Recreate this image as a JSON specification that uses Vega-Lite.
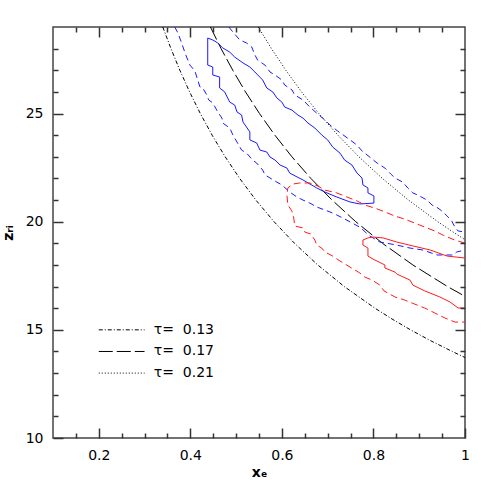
{
  "$schema": "https://vega.github.io/schema/vega-lite/v6.json",
  "width": 412,
  "height": 411,
  "autosize": {"type": "none"},
  "padding": {"left": 53, "top": 27, "right": 26, "bottom": 53},
  "background": "white",
  "config": {
    "view": {"stroke": "#444", "strokeWidth": 1.5},
    "axis": {
      "zindex": 2,
      "domain": false,
      "grid": false,
      "labelFont": "DejaVu Sans",
      "labelFontSize": 14,
      "labelColor": "#000",
      "titleFont": "DejaVu Sans",
      "titleFontSize": 14,
      "titleFontWeight": "bold",
      "titleColor": "#000"
    }
  },
  "datasets": {
    "lines": [
      {"g": "t13", "st": "dd", "o": 1, "x": 0.3398, "y": 29},
      {"g": "t13", "st": "dd", "o": 2, "x": 0.3577, "y": 28},
      {"g": "t13", "st": "dd", "o": 3, "x": 0.3771, "y": 27},
      {"g": "t13", "st": "dd", "o": 4, "x": 0.3984, "y": 26},
      {"g": "t13", "st": "dd", "o": 5, "x": 0.4218, "y": 25},
      {"g": "t13", "st": "dd", "o": 6, "x": 0.4476, "y": 24},
      {"g": "t13", "st": "dd", "o": 7, "x": 0.4761, "y": 23},
      {"g": "t13", "st": "dd", "o": 8, "x": 0.5078, "y": 22},
      {"g": "t13", "st": "dd", "o": 9, "x": 0.5431, "y": 21},
      {"g": "t13", "st": "dd", "o": 10, "x": 0.5828, "y": 20},
      {"g": "t13", "st": "dd", "o": 11, "x": 0.6276, "y": 19},
      {"g": "t13", "st": "dd", "o": 12, "x": 0.6783, "y": 18},
      {"g": "t13", "st": "dd", "o": 13, "x": 0.7364, "y": 17},
      {"g": "t13", "st": "dd", "o": 14, "x": 0.8033, "y": 16},
      {"g": "t13", "st": "dd", "o": 15, "x": 0.8407, "y": 15.5},
      {"g": "t13", "st": "dd", "o": 16, "x": 0.881, "y": 15},
      {"g": "t13", "st": "dd", "o": 17, "x": 0.9247, "y": 14.5},
      {"g": "t13", "st": "dd", "o": 18, "x": 0.9722, "y": 14},
      {"g": "t13", "st": "dd", "o": 19, "x": 1.0, "y": 13.72},

      {"g": "t17", "st": "lg", "o": 1, "x": 0.4439, "y": 29},
      {"g": "t17", "st": "lg", "o": 2, "x": 0.4672, "y": 28},
      {"g": "t17", "st": "lg", "o": 3, "x": 0.4927, "y": 27},
      {"g": "t17", "st": "lg", "o": 4, "x": 0.5205, "y": 26},
      {"g": "t17", "st": "lg", "o": 5, "x": 0.551, "y": 25},
      {"g": "t17", "st": "lg", "o": 6, "x": 0.5847, "y": 24},
      {"g": "t17", "st": "lg", "o": 7, "x": 0.6219, "y": 23},
      {"g": "t17", "st": "lg", "o": 8, "x": 0.6633, "y": 22},
      {"g": "t17", "st": "lg", "o": 9, "x": 0.7095, "y": 21},
      {"g": "t17", "st": "lg", "o": 10, "x": 0.7613, "y": 20},
      {"g": "t17", "st": "lg", "o": 11, "x": 0.8198, "y": 19},
      {"g": "t17", "st": "lg", "o": 12, "x": 0.8861, "y": 18},
      {"g": "t17", "st": "lg", "o": 13, "x": 0.9619, "y": 17},
      {"g": "t17", "st": "lg", "o": 14, "x": 1.0, "y": 16.55},

      {"g": "t21", "st": "dt", "o": 1, "x": 0.5484, "y": 29},
      {"g": "t21", "st": "dt", "o": 2, "x": 0.5772, "y": 28},
      {"g": "t21", "st": "dt", "o": 3, "x": 0.6086, "y": 27},
      {"g": "t21", "st": "dt", "o": 4, "x": 0.6429, "y": 26},
      {"g": "t21", "st": "dt", "o": 5, "x": 0.6807, "y": 25},
      {"g": "t21", "st": "dt", "o": 6, "x": 0.7223, "y": 24},
      {"g": "t21", "st": "dt", "o": 7, "x": 0.7682, "y": 23},
      {"g": "t21", "st": "dt", "o": 8, "x": 0.8194, "y": 22},
      {"g": "t21", "st": "dt", "o": 9, "x": 0.8764, "y": 21},
      {"g": "t21", "st": "dt", "o": 10, "x": 0.9405, "y": 20},
      {"g": "t21", "st": "dt", "o": 11, "x": 0.9754, "y": 19.5},
      {"g": "t21", "st": "dt", "o": 12, "x": 1.0, "y": 19.17},

      {"g": "L1", "st": "dd", "o": 1, "x": 0.2, "y": 15},
      {"g": "L1", "st": "dd", "o": 2, "x": 0.3, "y": 15},
      {"g": "L2", "st": "lg", "o": 1, "x": 0.2, "y": 14},
      {"g": "L2", "st": "lg", "o": 2, "x": 0.3, "y": 14},
      {"g": "L3", "st": "dt", "o": 1, "x": 0.2, "y": 13},
      {"g": "L3", "st": "dt", "o": 2, "x": 0.3, "y": 13},

      {"g": "bs", "st": "bs", "o": 1, "x": 0.438, "y": 28.49},
      {"g": "bs", "st": "bs", "o": 2, "x": 0.449, "y": 28.40},
      {"g": "bs", "st": "bs", "o": 3, "x": 0.460, "y": 28.26},
      {"g": "bs", "st": "bs", "o": 4, "x": 0.471, "y": 28.03},
      {"g": "bs", "st": "bs", "o": 5, "x": 0.486, "y": 27.84},
      {"g": "bs", "st": "bs", "o": 6, "x": 0.497, "y": 27.61},
      {"g": "bs", "st": "bs", "o": 7, "x": 0.515, "y": 27.34},
      {"g": "bs", "st": "bs", "o": 8, "x": 0.530, "y": 27.15},
      {"g": "bs", "st": "bs", "o": 9, "x": 0.541, "y": 26.92},
      {"g": "bs", "st": "bs", "o": 10, "x": 0.558, "y": 26.55},
      {"g": "bs", "st": "bs", "o": 11, "x": 0.567, "y": 26.18},
      {"g": "bs", "st": "bs", "o": 12, "x": 0.580, "y": 26.00},
      {"g": "bs", "st": "bs", "o": 13, "x": 0.589, "y": 25.72},
      {"g": "bs", "st": "bs", "o": 14, "x": 0.600, "y": 25.53},
      {"g": "bs", "st": "bs", "o": 15, "x": 0.606, "y": 25.30},
      {"g": "bs", "st": "bs", "o": 16, "x": 0.622, "y": 25.16},
      {"g": "bs", "st": "bs", "o": 17, "x": 0.635, "y": 24.93},
      {"g": "bs", "st": "bs", "o": 18, "x": 0.646, "y": 24.79},
      {"g": "bs", "st": "bs", "o": 19, "x": 0.657, "y": 24.56},
      {"g": "bs", "st": "bs", "o": 20, "x": 0.672, "y": 24.33},
      {"g": "bs", "st": "bs", "o": 21, "x": 0.687, "y": 24.01},
      {"g": "bs", "st": "bs", "o": 22, "x": 0.700, "y": 23.78},
      {"g": "bs", "st": "bs", "o": 23, "x": 0.711, "y": 23.45},
      {"g": "bs", "st": "bs", "o": 24, "x": 0.727, "y": 23.17},
      {"g": "bs", "st": "bs", "o": 25, "x": 0.737, "y": 22.85},
      {"g": "bs", "st": "bs", "o": 26, "x": 0.753, "y": 22.62},
      {"g": "bs", "st": "bs", "o": 27, "x": 0.764, "y": 22.25},
      {"g": "bs", "st": "bs", "o": 28, "x": 0.775, "y": 22.02},
      {"g": "bs", "st": "bs", "o": 29, "x": 0.777, "y": 21.70},
      {"g": "bs", "st": "bs", "o": 30, "x": 0.788, "y": 21.56},
      {"g": "bs", "st": "bs", "o": 31, "x": 0.788, "y": 21.33},
      {"g": "bs", "st": "bs", "o": 32, "x": 0.801, "y": 21.19},
      {"g": "bs", "st": "bs", "o": 33, "x": 0.801, "y": 20.86},
      {"g": "bs", "st": "bs", "o": 34, "x": 0.770, "y": 20.82},
      {"g": "bs", "st": "bs", "o": 35, "x": 0.749, "y": 20.91},
      {"g": "bs", "st": "bs", "o": 36, "x": 0.720, "y": 21.14},
      {"g": "bs", "st": "bs", "o": 37, "x": 0.694, "y": 21.37},
      {"g": "bs", "st": "bs", "o": 38, "x": 0.676, "y": 21.56},
      {"g": "bs", "st": "bs", "o": 39, "x": 0.646, "y": 21.93},
      {"g": "bs", "st": "bs", "o": 40, "x": 0.633, "y": 22.07},
      {"g": "bs", "st": "bs", "o": 41, "x": 0.617, "y": 22.25},
      {"g": "bs", "st": "bs", "o": 42, "x": 0.611, "y": 22.48},
      {"g": "bs", "st": "bs", "o": 43, "x": 0.596, "y": 22.62},
      {"g": "bs", "st": "bs", "o": 44, "x": 0.585, "y": 22.85},
      {"g": "bs", "st": "bs", "o": 45, "x": 0.574, "y": 22.99},
      {"g": "bs", "st": "bs", "o": 46, "x": 0.567, "y": 23.22},
      {"g": "bs", "st": "bs", "o": 47, "x": 0.552, "y": 23.31},
      {"g": "bs", "st": "bs", "o": 48, "x": 0.545, "y": 23.64},
      {"g": "bs", "st": "bs", "o": 49, "x": 0.530, "y": 23.78},
      {"g": "bs", "st": "bs", "o": 50, "x": 0.530, "y": 24.15},
      {"g": "bs", "st": "bs", "o": 51, "x": 0.515, "y": 24.61},
      {"g": "bs", "st": "bs", "o": 52, "x": 0.512, "y": 24.93},
      {"g": "bs", "st": "bs", "o": 53, "x": 0.502, "y": 25.07},
      {"g": "bs", "st": "bs", "o": 54, "x": 0.497, "y": 25.39},
      {"g": "bs", "st": "bs", "o": 55, "x": 0.486, "y": 25.53},
      {"g": "bs", "st": "bs", "o": 56, "x": 0.475, "y": 26.00},
      {"g": "bs", "st": "bs", "o": 57, "x": 0.464, "y": 26.18},
      {"g": "bs", "st": "bs", "o": 58, "x": 0.464, "y": 26.69},
      {"g": "bs", "st": "bs", "o": 59, "x": 0.449, "y": 26.78},
      {"g": "bs", "st": "bs", "o": 60, "x": 0.449, "y": 27.15},
      {"g": "bs", "st": "bs", "o": 61, "x": 0.438, "y": 27.24},
      {"g": "bs", "st": "bs", "o": 62, "x": 0.438, "y": 28.49},

      {"g": "bdu", "st": "bd", "o": 1, "x": 0.484, "y": 29.0},
      {"g": "bdu", "st": "bd", "o": 2, "x": 0.493, "y": 28.77},
      {"g": "bdu", "st": "bd", "o": 3, "x": 0.508, "y": 28.40},
      {"g": "bdu", "st": "bd", "o": 4, "x": 0.523, "y": 28.26},
      {"g": "bdu", "st": "bd", "o": 5, "x": 0.534, "y": 28.08},
      {"g": "bdu", "st": "bd", "o": 6, "x": 0.541, "y": 27.71},
      {"g": "bdu", "st": "bd", "o": 7, "x": 0.547, "y": 27.47},
      {"g": "bdu", "st": "bd", "o": 8, "x": 0.563, "y": 27.24},
      {"g": "bdu", "st": "bd", "o": 9, "x": 0.574, "y": 26.92},
      {"g": "bdu", "st": "bd", "o": 10, "x": 0.585, "y": 26.78},
      {"g": "bdu", "st": "bd", "o": 11, "x": 0.600, "y": 26.55},
      {"g": "bdu", "st": "bd", "o": 12, "x": 0.606, "y": 26.32},
      {"g": "bdu", "st": "bd", "o": 13, "x": 0.622, "y": 26.09},
      {"g": "bdu", "st": "bd", "o": 14, "x": 0.628, "y": 25.86},
      {"g": "bdu", "st": "bd", "o": 15, "x": 0.646, "y": 25.63},
      {"g": "bdu", "st": "bd", "o": 16, "x": 0.661, "y": 25.30},
      {"g": "bdu", "st": "bd", "o": 17, "x": 0.676, "y": 25.02},
      {"g": "bdu", "st": "bd", "o": 18, "x": 0.694, "y": 24.70},
      {"g": "bdu", "st": "bd", "o": 19, "x": 0.705, "y": 24.47},
      {"g": "bdu", "st": "bd", "o": 20, "x": 0.722, "y": 24.19},
      {"g": "bdu", "st": "bd", "o": 21, "x": 0.749, "y": 23.78},
      {"g": "bdu", "st": "bd", "o": 22, "x": 0.764, "y": 23.54},
      {"g": "bdu", "st": "bd", "o": 23, "x": 0.775, "y": 23.27},
      {"g": "bdu", "st": "bd", "o": 24, "x": 0.797, "y": 22.90},
      {"g": "bdu", "st": "bd", "o": 25, "x": 0.808, "y": 22.71},
      {"g": "bdu", "st": "bd", "o": 26, "x": 0.825, "y": 22.48},
      {"g": "bdu", "st": "bd", "o": 27, "x": 0.838, "y": 22.20},
      {"g": "bdu", "st": "bd", "o": 28, "x": 0.847, "y": 22.02},
      {"g": "bdu", "st": "bd", "o": 29, "x": 0.864, "y": 21.83},
      {"g": "bdu", "st": "bd", "o": 30, "x": 0.875, "y": 21.56},
      {"g": "bdu", "st": "bd", "o": 31, "x": 0.886, "y": 21.33},
      {"g": "bdu", "st": "bd", "o": 32, "x": 0.897, "y": 21.23},
      {"g": "bdu", "st": "bd", "o": 33, "x": 0.917, "y": 21.00},
      {"g": "bdu", "st": "bd", "o": 34, "x": 0.928, "y": 20.77},
      {"g": "bdu", "st": "bd", "o": 35, "x": 0.941, "y": 20.63},
      {"g": "bdu", "st": "bd", "o": 36, "x": 0.952, "y": 20.45},
      {"g": "bdu", "st": "bd", "o": 37, "x": 0.961, "y": 20.26},
      {"g": "bdu", "st": "bd", "o": 38, "x": 0.971, "y": 20.03},
      {"g": "bdu", "st": "bd", "o": 39, "x": 0.978, "y": 19.75},
      {"g": "bdu", "st": "bd", "o": 40, "x": 0.985, "y": 19.57},
      {"g": "bdu", "st": "bd", "o": 41, "x": 1.0, "y": 19.52},

      {"g": "bdl", "st": "bd", "o": 1, "x": 0.366, "y": 29.0},
      {"g": "bdl", "st": "bd", "o": 2, "x": 0.373, "y": 28.72},
      {"g": "bdl", "st": "bd", "o": 3, "x": 0.377, "y": 28.49},
      {"g": "bdl", "st": "bd", "o": 4, "x": 0.381, "y": 28.26},
      {"g": "bdl", "st": "bd", "o": 5, "x": 0.390, "y": 27.71},
      {"g": "bdl", "st": "bd", "o": 6, "x": 0.399, "y": 27.24},
      {"g": "bdl", "st": "bd", "o": 7, "x": 0.410, "y": 26.97},
      {"g": "bdl", "st": "bd", "o": 8, "x": 0.414, "y": 26.69},
      {"g": "bdl", "st": "bd", "o": 9, "x": 0.421, "y": 26.23},
      {"g": "bdl", "st": "bd", "o": 10, "x": 0.427, "y": 26.18},
      {"g": "bdl", "st": "bd", "o": 11, "x": 0.436, "y": 25.86},
      {"g": "bdl", "st": "bd", "o": 12, "x": 0.440, "y": 25.63},
      {"g": "bdl", "st": "bd", "o": 13, "x": 0.449, "y": 25.49},
      {"g": "bdl", "st": "bd", "o": 14, "x": 0.460, "y": 25.07},
      {"g": "bdl", "st": "bd", "o": 15, "x": 0.469, "y": 24.79},
      {"g": "bdl", "st": "bd", "o": 16, "x": 0.471, "y": 24.56},
      {"g": "bdl", "st": "bd", "o": 17, "x": 0.486, "y": 24.33},
      {"g": "bdl", "st": "bd", "o": 18, "x": 0.493, "y": 24.01},
      {"g": "bdl", "st": "bd", "o": 19, "x": 0.502, "y": 23.68},
      {"g": "bdl", "st": "bd", "o": 20, "x": 0.512, "y": 23.31},
      {"g": "bdl", "st": "bd", "o": 21, "x": 0.523, "y": 23.17},
      {"g": "bdl", "st": "bd", "o": 22, "x": 0.536, "y": 22.85},
      {"g": "bdl", "st": "bd", "o": 23, "x": 0.545, "y": 22.71},
      {"g": "bdl", "st": "bd", "o": 24, "x": 0.558, "y": 22.39},
      {"g": "bdl", "st": "bd", "o": 25, "x": 0.563, "y": 22.16},
      {"g": "bdl", "st": "bd", "o": 26, "x": 0.574, "y": 22.02},
      {"g": "bdl", "st": "bd", "o": 27, "x": 0.589, "y": 21.83},
      {"g": "bdl", "st": "bd", "o": 28, "x": 0.600, "y": 21.70},
      {"g": "bdl", "st": "bd", "o": 29, "x": 0.617, "y": 21.37},
      {"g": "bdl", "st": "bd", "o": 30, "x": 0.633, "y": 21.14},
      {"g": "bdl", "st": "bd", "o": 31, "x": 0.646, "y": 21.00},
      {"g": "bdl", "st": "bd", "o": 32, "x": 0.661, "y": 20.86},
      {"g": "bdl", "st": "bd", "o": 33, "x": 0.676, "y": 20.68},
      {"g": "bdl", "st": "bd", "o": 34, "x": 0.705, "y": 20.45},
      {"g": "bdl", "st": "bd", "o": 35, "x": 0.720, "y": 20.31},
      {"g": "bdl", "st": "bd", "o": 36, "x": 0.733, "y": 20.17},
      {"g": "bdl", "st": "bd", "o": 37, "x": 0.749, "y": 19.99},
      {"g": "bdl", "st": "bd", "o": 38, "x": 0.770, "y": 19.75},
      {"g": "bdl", "st": "bd", "o": 39, "x": 0.792, "y": 19.34},
      {"g": "bdl", "st": "bd", "o": 40, "x": 0.814, "y": 19.06},
      {"g": "bdl", "st": "bd", "o": 41, "x": 0.851, "y": 18.92},
      {"g": "bdl", "st": "bd", "o": 42, "x": 0.880, "y": 18.78},
      {"g": "bdl", "st": "bd", "o": 43, "x": 0.908, "y": 18.69},
      {"g": "bdl", "st": "bd", "o": 44, "x": 0.939, "y": 18.46},
      {"g": "bdl", "st": "bd", "o": 45, "x": 0.974, "y": 18.46},
      {"g": "bdl", "st": "bd", "o": 46, "x": 0.982, "y": 18.60},
      {"g": "bdl", "st": "bd", "o": 47, "x": 1.0, "y": 18.69},

      {"g": "rs", "st": "rs", "o": 1, "x": 1.0, "y": 18.32},
      {"g": "rs", "st": "rs", "o": 2, "x": 0.961, "y": 18.41},
      {"g": "rs", "st": "rs", "o": 3, "x": 0.924, "y": 18.69},
      {"g": "rs", "st": "rs", "o": 4, "x": 0.886, "y": 18.88},
      {"g": "rs", "st": "rs", "o": 5, "x": 0.851, "y": 19.06},
      {"g": "rs", "st": "rs", "o": 6, "x": 0.821, "y": 19.25},
      {"g": "rs", "st": "rs", "o": 7, "x": 0.799, "y": 19.29},
      {"g": "rs", "st": "rs", "o": 8, "x": 0.788, "y": 19.25},
      {"g": "rs", "st": "rs", "o": 9, "x": 0.777, "y": 19.15},
      {"g": "rs", "st": "rs", "o": 10, "x": 0.777, "y": 18.92},
      {"g": "rs", "st": "rs", "o": 11, "x": 0.788, "y": 18.78},
      {"g": "rs", "st": "rs", "o": 12, "x": 0.788, "y": 18.41},
      {"g": "rs", "st": "rs", "o": 13, "x": 0.799, "y": 18.27},
      {"g": "rs", "st": "rs", "o": 14, "x": 0.825, "y": 18.00},
      {"g": "rs", "st": "rs", "o": 15, "x": 0.825, "y": 17.86},
      {"g": "rs", "st": "rs", "o": 16, "x": 0.847, "y": 17.67},
      {"g": "rs", "st": "rs", "o": 17, "x": 0.851, "y": 17.58},
      {"g": "rs", "st": "rs", "o": 18, "x": 0.880, "y": 17.30},
      {"g": "rs", "st": "rs", "o": 19, "x": 0.886, "y": 17.07},
      {"g": "rs", "st": "rs", "o": 20, "x": 0.912, "y": 16.80},
      {"g": "rs", "st": "rs", "o": 21, "x": 0.945, "y": 16.52},
      {"g": "rs", "st": "rs", "o": 22, "x": 0.967, "y": 16.29},
      {"g": "rs", "st": "rs", "o": 23, "x": 0.985, "y": 16.01},
      {"g": "rs", "st": "rs", "o": 24, "x": 1.0, "y": 16.01},

      {"g": "rd", "st": "rd", "o": 1, "x": 1.0, "y": 19.01},
      {"g": "rd", "st": "rd", "o": 2, "x": 0.978, "y": 19.15},
      {"g": "rd", "st": "rd", "o": 3, "x": 0.956, "y": 19.34},
      {"g": "rd", "st": "rd", "o": 4, "x": 0.934, "y": 19.57},
      {"g": "rd", "st": "rd", "o": 5, "x": 0.912, "y": 19.75},
      {"g": "rd", "st": "rd", "o": 6, "x": 0.890, "y": 19.94},
      {"g": "rd", "st": "rd", "o": 7, "x": 0.868, "y": 20.12},
      {"g": "rd", "st": "rd", "o": 8, "x": 0.847, "y": 20.26},
      {"g": "rd", "st": "rd", "o": 9, "x": 0.825, "y": 20.45},
      {"g": "rd", "st": "rd", "o": 10, "x": 0.803, "y": 20.63},
      {"g": "rd", "st": "rd", "o": 11, "x": 0.781, "y": 20.77},
      {"g": "rd", "st": "rd", "o": 12, "x": 0.764, "y": 20.96},
      {"g": "rd", "st": "rd", "o": 13, "x": 0.742, "y": 21.14},
      {"g": "rd", "st": "rd", "o": 14, "x": 0.720, "y": 21.33},
      {"g": "rd", "st": "rd", "o": 15, "x": 0.694, "y": 21.46},
      {"g": "rd", "st": "rd", "o": 16, "x": 0.678, "y": 21.65},
      {"g": "rd", "st": "rd", "o": 17, "x": 0.661, "y": 21.79},
      {"g": "rd", "st": "rd", "o": 18, "x": 0.639, "y": 21.79},
      {"g": "rd", "st": "rd", "o": 19, "x": 0.624, "y": 21.74},
      {"g": "rd", "st": "rd", "o": 20, "x": 0.613, "y": 21.56},
      {"g": "rd", "st": "rd", "o": 21, "x": 0.611, "y": 21.23},
      {"g": "rd", "st": "rd", "o": 22, "x": 0.613, "y": 20.77},
      {"g": "rd", "st": "rd", "o": 23, "x": 0.622, "y": 20.49},
      {"g": "rd", "st": "rd", "o": 24, "x": 0.626, "y": 20.17},
      {"g": "rd", "st": "rd", "o": 25, "x": 0.628, "y": 19.80},
      {"g": "rd", "st": "rd", "o": 26, "x": 0.646, "y": 19.71},
      {"g": "rd", "st": "rd", "o": 27, "x": 0.650, "y": 19.52},
      {"g": "rd", "st": "rd", "o": 28, "x": 0.663, "y": 19.43},
      {"g": "rd", "st": "rd", "o": 29, "x": 0.672, "y": 19.15},
      {"g": "rd", "st": "rd", "o": 30, "x": 0.676, "y": 18.92},
      {"g": "rd", "st": "rd", "o": 31, "x": 0.687, "y": 18.78},
      {"g": "rd", "st": "rd", "o": 32, "x": 0.694, "y": 18.60},
      {"g": "rd", "st": "rd", "o": 33, "x": 0.711, "y": 18.41},
      {"g": "rd", "st": "rd", "o": 34, "x": 0.727, "y": 18.18},
      {"g": "rd", "st": "rd", "o": 35, "x": 0.749, "y": 17.90},
      {"g": "rd", "st": "rd", "o": 36, "x": 0.770, "y": 17.63},
      {"g": "rd", "st": "rd", "o": 37, "x": 0.781, "y": 17.44},
      {"g": "rd", "st": "rd", "o": 38, "x": 0.797, "y": 17.30},
      {"g": "rd", "st": "rd", "o": 39, "x": 0.814, "y": 17.07},
      {"g": "rd", "st": "rd", "o": 40, "x": 0.823, "y": 16.80},
      {"g": "rd", "st": "rd", "o": 41, "x": 0.847, "y": 16.52},
      {"g": "rd", "st": "rd", "o": 42, "x": 0.868, "y": 16.38},
      {"g": "rd", "st": "rd", "o": 43, "x": 0.890, "y": 16.19},
      {"g": "rd", "st": "rd", "o": 44, "x": 0.912, "y": 16.01},
      {"g": "rd", "st": "rd", "o": 45, "x": 0.934, "y": 15.78},
      {"g": "rd", "st": "rd", "o": 46, "x": 0.956, "y": 15.55},
      {"g": "rd", "st": "rd", "o": 47, "x": 0.978, "y": 15.36},
      {"g": "rd", "st": "rd", "o": 48, "x": 1.0, "y": 15.36}
    ],
    "legend": [
      {"x": 0.32, "y": 15, "label": "τ= \u00a00.13"},
      {"x": 0.32, "y": 14, "label": "τ= \u00a00.17"},
      {"x": 0.32, "y": 13, "label": "τ= \u00a00.21"}
    ]
  },
  "layer": [
    {
      "data": {"name": "legend"},
      "mark": {"type": "text", "align": "left", "baseline": "middle", "fontSize": 14, "font": "DejaVu Sans", "color": "#000"},
      "encoding": {
        "x": {
          "field": "x", "type": "quantitative",
          "scale": {"domain": [0.1, 1], "nice": false, "zero": false},
          "axis": {
            "orient": "bottom",
            "title": "xₑ",
            "titlePadding": 3,
            "tickSize": -10,
            "tickColor": "#333",
            "tickWidth": 1.5,
            "zindex": 2,
            "values": [0.2, 0.4, 0.6, 0.8, 1],
            "labelExpr": "datum.value > 0.99 ? '1' : format(datum.value, '.1f')",
            "labelPadding": 20,
            "labelFlush": false,
            "labelOverlap": false
          }
        },
        "y": {
          "field": "y", "type": "quantitative",
          "scale": {"domain": [10, 29], "nice": false, "zero": false},
          "axis": {
            "orient": "left",
            "title": "zᵣᵢ",
            "titlePadding": 10,
            "tickSize": -10,
            "tickColor": "#333",
            "tickWidth": 1.5,
            "zindex": 2,
            "values": [10, 15, 20, 25],
            "labelPadding": 20,
            "labelFlush": false,
            "labelOverlap": false
          }
        },
        "text": {"field": "label", "type": "nominal"}
      }
    },
    {
      "data": {"name": "legend"},
      "mark": {"type": "text", "opacity": 0},
      "encoding": {
        "x": {
          "field": "x", "type": "quantitative",
          "scale": {"domain": [0.1, 1], "nice": false, "zero": false},
          "axis": {"orient": "bottom", "title": null, "labels": false, "zindex": 2, "tickSize": -5, "tickColor": "#333", "tickWidth": 1.5, "values": [0.15, 0.25, 0.3, 0.35, 0.45, 0.5, 0.55, 0.65, 0.7, 0.75, 0.85, 0.9, 0.95]}
        },
        "y": {
          "field": "y", "type": "quantitative",
          "scale": {"domain": [10, 29], "nice": false, "zero": false},
          "axis": {"orient": "left", "title": null, "labels": false, "zindex": 2, "tickSize": -5, "tickColor": "#333", "tickWidth": 1.5, "values": [11, 12, 13, 14, 16, 17, 18, 19, 21, 22, 23, 24, 26, 27, 28]}
        },
        "text": {"field": "label", "type": "nominal"}
      }
    },
    {
      "data": {"name": "legend"},
      "mark": {"type": "text", "opacity": 0},
      "encoding": {
        "x": {
          "field": "x", "type": "quantitative",
          "scale": {"domain": [0.1, 1], "nice": false, "zero": false},
          "axis": {"orient": "top", "title": null, "labels": false, "zindex": 2, "tickSize": -10, "tickColor": "#333", "tickWidth": 1.5, "values": [0.2, 0.4, 0.6, 0.8]}
        },
        "y": {
          "field": "y", "type": "quantitative",
          "scale": {"domain": [10, 29], "nice": false, "zero": false},
          "axis": {"orient": "right", "title": null, "labels": false, "zindex": 2, "tickSize": -10, "tickColor": "#333", "tickWidth": 1.5, "values": [15, 20, 25]}
        },
        "text": {"field": "label", "type": "nominal"}
      }
    },
    {
      "data": {"name": "legend"},
      "mark": {"type": "text", "opacity": 0},
      "encoding": {
        "x": {
          "field": "x", "type": "quantitative",
          "scale": {"domain": [0.1, 1], "nice": false, "zero": false},
          "axis": {"orient": "top", "title": null, "labels": false, "zindex": 2, "tickSize": -5, "tickColor": "#333", "tickWidth": 1.5, "values": [0.15, 0.25, 0.3, 0.35, 0.45, 0.5, 0.55, 0.65, 0.7, 0.75, 0.85, 0.9, 0.95]}
        },
        "y": {
          "field": "y", "type": "quantitative",
          "scale": {"domain": [10, 29], "nice": false, "zero": false},
          "axis": {"orient": "right", "title": null, "labels": false, "zindex": 2, "tickSize": -5, "tickColor": "#333", "tickWidth": 1.5, "values": [11, 12, 13, 14, 16, 17, 18, 19, 21, 22, 23, 24, 26, 27, 28]}
        },
        "text": {"field": "label", "type": "nominal"}
      }
    },
    {
      "data": {"name": "lines"},
      "transform": [{"filter": "datum.st == 'dd'"}],
      "mark": {"type": "line", "strokeWidth": 1, "color": "#000000", "strokeDash": [4, 2, 1, 2]},
      "encoding": {
        "x": {"field": "x", "type": "quantitative", "axis": null},
        "y": {"field": "y", "type": "quantitative", "axis": null},
        "detail": {"field": "g", "type": "nominal"},
        "order": {"field": "o", "type": "quantitative"}
      }
    },
    {
      "data": {"name": "lines"},
      "transform": [{"filter": "datum.st == 'lg'"}],
      "mark": {"type": "line", "strokeWidth": 1, "color": "#000000", "strokeDash": [14, 4]},
      "encoding": {
        "x": {"field": "x", "type": "quantitative", "axis": null},
        "y": {"field": "y", "type": "quantitative", "axis": null},
        "detail": {"field": "g", "type": "nominal"},
        "order": {"field": "o", "type": "quantitative"}
      }
    },
    {
      "data": {"name": "lines"},
      "transform": [{"filter": "datum.st == 'dt'"}],
      "mark": {"type": "line", "strokeWidth": 1, "color": "#000000", "strokeDash": [1, 2]},
      "encoding": {
        "x": {"field": "x", "type": "quantitative", "axis": null},
        "y": {"field": "y", "type": "quantitative", "axis": null},
        "detail": {"field": "g", "type": "nominal"},
        "order": {"field": "o", "type": "quantitative"}
      }
    },
    {
      "data": {"name": "lines"},
      "transform": [{"filter": "datum.st == 'bs'"}],
      "mark": {"type": "line", "strokeWidth": 1, "color": "#1a1aff"},
      "encoding": {
        "x": {"field": "x", "type": "quantitative", "axis": null},
        "y": {"field": "y", "type": "quantitative", "axis": null},
        "detail": {"field": "g", "type": "nominal"},
        "order": {"field": "o", "type": "quantitative"}
      }
    },
    {
      "data": {"name": "lines"},
      "transform": [{"filter": "datum.st == 'bd'"}],
      "mark": {"type": "line", "strokeWidth": 1, "color": "#1a1aff", "strokeDash": [6, 4]},
      "encoding": {
        "x": {"field": "x", "type": "quantitative", "axis": null},
        "y": {"field": "y", "type": "quantitative", "axis": null},
        "detail": {"field": "g", "type": "nominal"},
        "order": {"field": "o", "type": "quantitative"}
      }
    },
    {
      "data": {"name": "lines"},
      "transform": [{"filter": "datum.st == 'rs'"}],
      "mark": {"type": "line", "strokeWidth": 1, "color": "#ff1a1a"},
      "encoding": {
        "x": {"field": "x", "type": "quantitative", "axis": null},
        "y": {"field": "y", "type": "quantitative", "axis": null},
        "detail": {"field": "g", "type": "nominal"},
        "order": {"field": "o", "type": "quantitative"}
      }
    },
    {
      "data": {"name": "lines"},
      "transform": [{"filter": "datum.st == 'rd'"}],
      "mark": {"type": "line", "strokeWidth": 1, "color": "#ff1a1a", "strokeDash": [7, 4]},
      "encoding": {
        "x": {"field": "x", "type": "quantitative", "axis": null},
        "y": {"field": "y", "type": "quantitative", "axis": null},
        "detail": {"field": "g", "type": "nominal"},
        "order": {"field": "o", "type": "quantitative"}
      }
    }
  ],
  "resolve": {"axis": {"x": "independent", "y": "independent"}}
}
